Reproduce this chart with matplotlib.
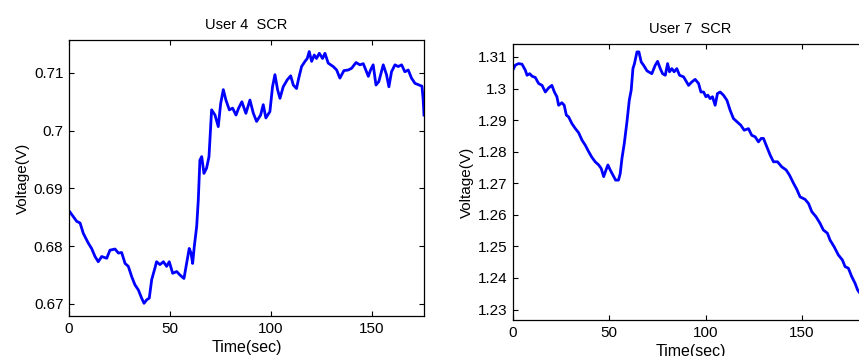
import matplotlib
matplotlib.use('Agg')
import matplotlib.pyplot as plt

plt.rcParams['font.family'] = ['Liberation Sans', 'DejaVu Sans']

# User 4 SCR (left)
t4 = [0.5, 3.8, 5.5, 7.1, 9.6, 11.2, 12.9, 14.5, 16.2, 18.7, 20.3, 22.8, 24.5, 26.1,
      27.8, 29.4, 31.1, 32.7, 34.4, 36.0, 37.2, 38.5, 39.8, 41.0, 42.6, 43.4, 45.1,
      46.8, 48.4, 49.7, 51.4, 53.4, 55.0, 57.0, 58.3, 59.6, 60.5, 61.3, 62.1, 63.3,
      64.1, 64.9, 65.8, 66.9, 68.2, 69.4, 70.7, 72.4, 74.0, 75.2, 76.5, 77.8, 79.5,
      81.1, 82.8, 84.1, 85.7, 87.7, 89.7, 91.4, 93.0, 95.0, 96.3, 97.6, 99.6, 100.9,
      102.1, 103.4, 104.6, 106.2, 108.2, 109.9, 111.2, 112.8, 113.7, 115.3, 117.0,
      118.1, 119.1, 120.3, 121.6, 122.7, 124.1, 125.7, 126.9, 128.5, 131.0, 132.7,
      134.3, 136.3, 138.4, 140.1, 142.3, 144.2, 145.9, 147.5, 148.4, 149.5, 150.8,
      152.2, 153.6, 155.8, 157.4, 158.6, 159.9, 161.6, 163.2, 164.9, 166.5, 168.2,
      169.8, 171.5, 173.6, 175.0, 175.6, 176.0]
v4 = [0.6859, 0.6843, 0.6840, 0.6822, 0.6805, 0.6796, 0.6782, 0.6773, 0.6782, 0.6779,
      0.6793, 0.6795, 0.6788, 0.6789, 0.6770, 0.6765, 0.6747, 0.6733, 0.6724, 0.6710,
      0.6701, 0.6707, 0.6710, 0.6742, 0.6762, 0.6773, 0.6768, 0.6773, 0.6765, 0.6773,
      0.6753, 0.6756, 0.6750, 0.6744, 0.6770, 0.6796, 0.6788, 0.6770, 0.6799, 0.6834,
      0.6880, 0.6949, 0.6955, 0.6926, 0.6935, 0.6955, 0.7036, 0.7027, 0.7007, 0.7047,
      0.7071, 0.7053, 0.7036, 0.7039, 0.7027, 0.7039, 0.7050, 0.7030, 0.7053, 0.7030,
      0.7016, 0.7027, 0.7045, 0.7022, 0.7033, 0.7076, 0.7097, 0.7071, 0.7056, 0.7076,
      0.7088, 0.7095, 0.7079, 0.7073, 0.7088, 0.7111, 0.7120, 0.7125, 0.7137, 0.7120,
      0.7131, 0.7125, 0.7134, 0.7125, 0.7134, 0.7117, 0.7111, 0.7105, 0.7091, 0.7104,
      0.7105, 0.7108, 0.7118, 0.7114, 0.7116, 0.7102, 0.7094, 0.7105, 0.7114, 0.7079,
      0.7085, 0.7114, 0.7097, 0.7076, 0.7102, 0.7114, 0.7111, 0.7114, 0.7102, 0.7105,
      0.7091, 0.7082, 0.7079, 0.7077, 0.7053, 0.7027]

# User 7 SCR (right)
t7 = [0.3, 1.2, 2.9, 4.7, 6.4, 7.3, 8.7, 9.9, 11.6, 13.3, 15.1, 16.8, 18.5, 20.2, 21.5,
      22.8, 23.7, 25.4, 26.6, 27.7, 28.9, 30.6, 32.4, 34.1, 35.8, 37.5, 39.3, 41.0,
      42.7, 44.5, 45.8, 47.1, 48.3, 49.3, 50.5, 51.9, 53.3, 54.8, 55.7, 56.6, 57.8,
      59.2, 60.4, 61.4, 62.3, 63.1, 64.4, 65.4, 66.6, 67.8, 69.6, 72.1, 73.9, 75.1,
      76.5, 77.7, 79.1, 80.3, 81.3, 82.5, 83.7, 85.1, 86.5, 88.6, 91.2, 92.9, 94.6,
      96.4, 97.6, 99.0, 100.2, 101.2, 102.4, 103.6, 105.0, 106.2, 107.6, 109.3, 111.1,
      112.8, 114.5, 116.3, 118.3, 120.1, 122.3, 124.0, 125.8, 127.5, 128.9, 130.1,
      131.8, 133.6, 135.3, 137.4, 139.6, 141.9, 143.6, 145.7, 147.4, 149.1, 151.7,
      153.5, 155.2, 157.4, 159.5, 161.2, 163.3, 164.7, 166.8, 169.0, 171.1, 172.5,
      174.2, 175.9, 177.7, 179.0, 181.0]
v7 = [1.3063, 1.3074, 1.3079, 1.3077, 1.3058, 1.3042, 1.3047, 1.3039, 1.3035, 1.3016,
      1.3010, 1.2989, 1.3002, 1.3010, 1.2989, 1.2974, 1.2947, 1.2955, 1.2947, 1.2916,
      1.2910, 1.2889, 1.2873, 1.2860, 1.2837, 1.2821, 1.2800, 1.2782, 1.2768, 1.2758,
      1.2747, 1.2721, 1.2742, 1.2758, 1.2742, 1.2726, 1.2710, 1.2710, 1.2731, 1.2779,
      1.2826, 1.2895, 1.2963, 1.2995, 1.3063, 1.3079, 1.3116, 1.3116, 1.3084, 1.3074,
      1.3056, 1.3047, 1.3074, 1.3086, 1.3063, 1.3047, 1.3042, 1.3079, 1.3053, 1.3063,
      1.3053, 1.3063, 1.3042, 1.3037, 1.3010, 1.3021, 1.3029, 1.3016, 1.2989, 1.2989,
      1.2974, 1.2979, 1.2968, 1.2974, 1.2947, 1.2984, 1.2989, 1.2979, 1.2963, 1.2931,
      1.2905, 1.2895, 1.2884, 1.2868, 1.2873, 1.2852, 1.2847, 1.2831, 1.2842, 1.2842,
      1.2816, 1.2789, 1.2768, 1.2768, 1.2752, 1.2742, 1.2726, 1.2700, 1.2681, 1.2657,
      1.2649, 1.2636, 1.2610, 1.2594, 1.2573, 1.2552, 1.2542, 1.2520, 1.2499, 1.2473,
      1.2457, 1.2436, 1.2431, 1.2405, 1.2383, 1.2362, 1.2345]

yticks4 = [0.67, 0.68, 0.69, 0.70, 0.71]
yticklabels4 = ['0.67', '0.68', '0.69', '0.7', '0.71']
yticks7 = [1.23, 1.24, 1.25, 1.26, 1.27, 1.28, 1.29, 1.30, 1.31]
yticklabels7 = ['1.23', '1.24', '1.25', '1.26', '1.27', '1.28', '1.29', '1.3', '1.31']
xticks = [0, 50, 100, 150]

fig = plt.figure(figsize=(8.59, 3.56), dpi=100)
ax1 = fig.add_axes([69/859, 40/356, 355/859, 276/356])
ax2 = fig.add_axes([513/859, 36/356, 355/859, 276/356])

def style(ax, title):
    ax.set_title(title, fontsize=10.5, pad=8)
    ax.set_xlabel('Time(sec)', fontsize=11.5, labelpad=3)
    ax.set_ylabel('Voltage(V)', fontsize=11, labelpad=3)
    ax.tick_params(direction='in', top=True, right=True, length=3.5,
                   width=0.8, labelsize=11, pad=4)
    ax.set_xticks(xticks)
    for s in ax.spines.values():
        s.set_linewidth(0.9)

ax1.plot(t4, v4, color='#0000ff', lw=2.0)
ax1.set_xlim(0, 176)
ax1.set_ylim(0.6679, 0.7157)
ax1.set_yticks(yticks4)
ax1.set_yticklabels(yticklabels4)
style(ax1, 'User 4  SCR')

ax2.plot(t7, v7, color='#0000ff', lw=2.0)
ax2.set_xlim(0, 184.4)
ax2.set_ylim(1.2267, 1.3141)
ax2.set_yticks(yticks7)
ax2.set_yticklabels(yticklabels7)
style(ax2, 'User 7  SCR')

fig.savefig('out.png', dpi=100)
